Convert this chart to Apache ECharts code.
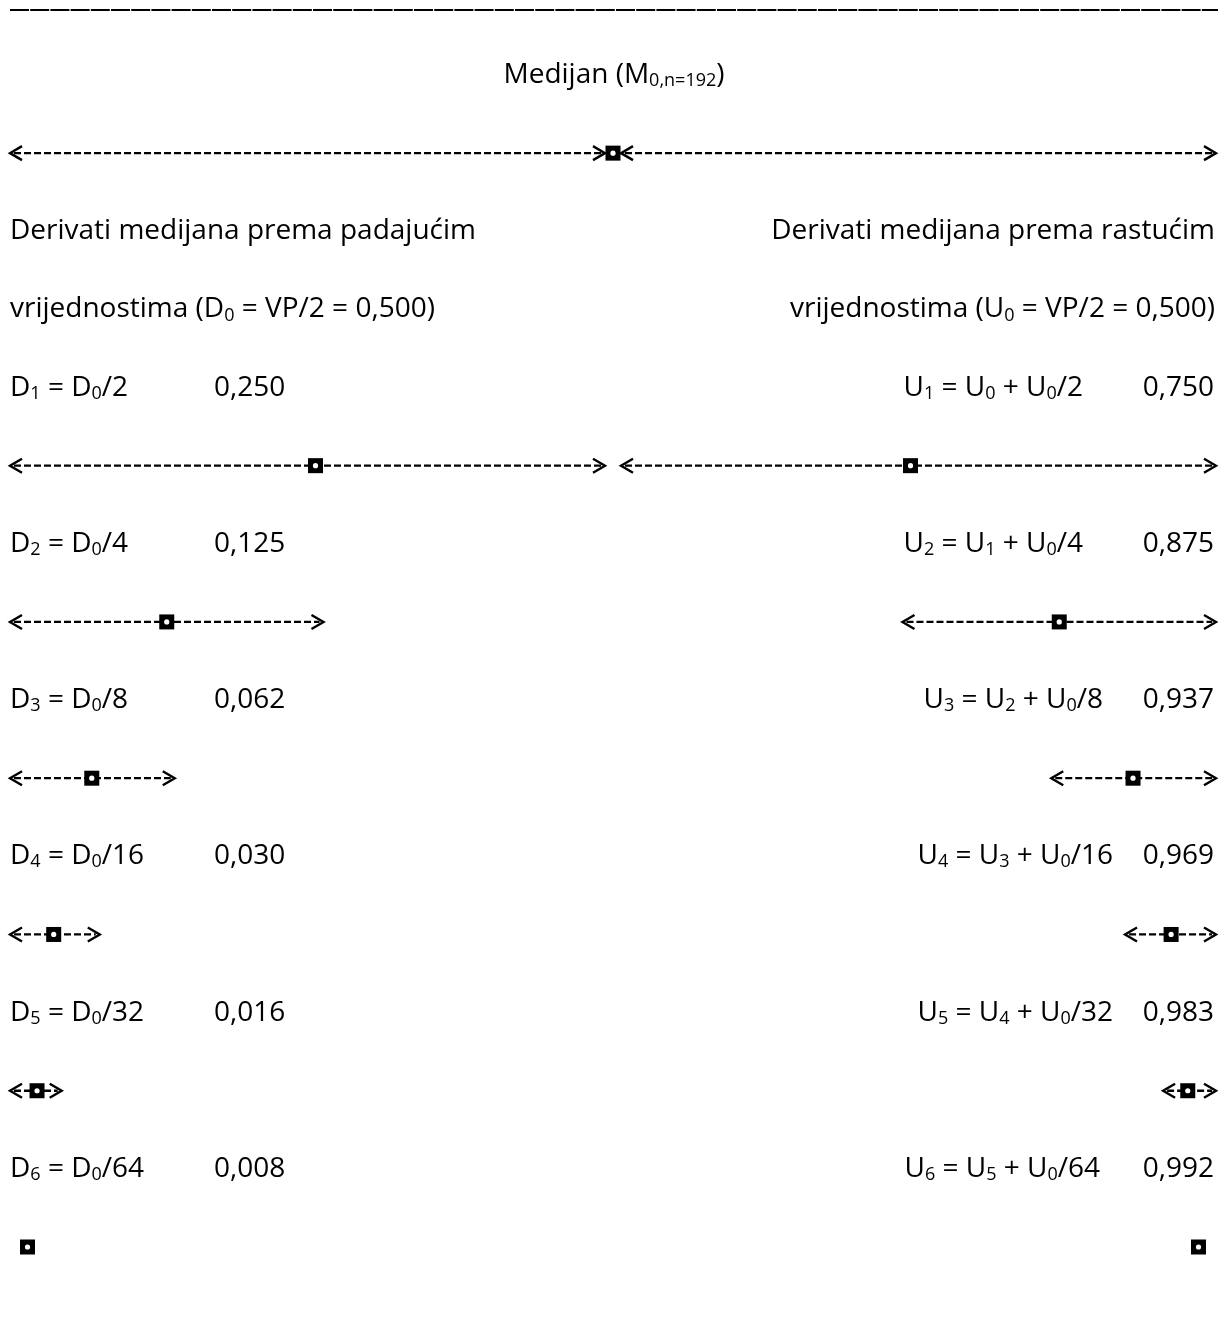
<!DOCTYPE html>
<html><head><meta charset="utf-8">
<script src="https://cdn.jsdelivr.net/npm/echarts@6/dist/echarts.min.js"></script>
<style>html,body{margin:0;padding:0;background:#fff}#c{width:1229px;height:1327px}</style>
</head><body><div id="c"></div>
<script>
// ---------- data ----------
const median = 0.5;                       // M0 (VP/2)
const lowerBound = 0, upperBound = 1;     // value range
const titleText = 'Medijan (M_{0,n=192})';
const headerLeft  = ['Derivati medijana prema padajućim', 'vrijednostima (D_0 = VP/2 = 0,500)'];
const headerRight = ['Derivati medijana prema rastućim',  'vrijednostima (U_0 = VP/2 = 0,500)'];
const dFormulas = ['D_1 = D_0/2', 'D_2 = D_0/4', 'D_3 = D_0/8', 'D_4 = D_0/16', 'D_5 = D_0/32', 'D_6 = D_0/64'];
const dValues   = [0.250, 0.125, 0.062, 0.030, 0.016, 0.008];
const uFormulas = ['U_1 = U_0 + U_0/2', 'U_2 = U_1 + U_0/4', 'U_3 = U_2 + U_0/8', 'U_4 = U_3 + U_0/16', 'U_5 = U_4 + U_0/32', 'U_6 = U_5 + U_0/64'];
const uValues   = [0.750, 0.875, 0.937, 0.969, 0.983, 0.992];
const arrowSteps = 5;                     // derivatives that still show an interval arrow

// ---------- layout / style ----------
const FONT = 'Open Sans';
const FS = 28;
const SUB_FS = 18;
const uFormulaRight = [1083, 1083, 1103, 1113, 1113, 1100];

function fmt(v) { return v.toFixed(3).replace('.', ','); }
function toRich(s) { return s.replace(/_\{([^}]*)\}|_(\w)/g, (m, a, b) => '{sub|' + (a || b) + '}'); }

// rows: 0 title, 1 median arrow, 2-3 headers, 4+2k formulas, 5+2k arrows/markers
const markers = [[median, 1]];
dValues.forEach((v, k) => markers.push([v, 5 + 2 * k]));
uValues.forEach((v, k) => markers.push([v, 5 + 2 * k]));

const arrows = [[lowerBound, median, 1], [median, upperBound, 1]];
for (let k = 0; k < arrowSteps; k++) {
  const dPrev = k === 0 ? median : dValues[k - 1];
  const uPrev = k === 0 ? median : uValues[k - 1];
  arrows.push([lowerBound, dPrev, 5 + 2 * k]);
  arrows.push([uPrev, upperBound, 5 + 2 * k]);
}

const texts = [];
texts.push({ row: 0, x: 614, align: 'center', t: titleText });
texts.push({ row: 2, x: 10, align: 'left', t: headerLeft[0] });
texts.push({ row: 3, x: 10, align: 'left', t: headerLeft[1] });
texts.push({ row: 2, x: 1215, align: 'right', t: headerRight[0] });
texts.push({ row: 3, x: 1215, align: 'right', t: headerRight[1] });
dFormulas.forEach((f, k) => {
  texts.push({ row: 4 + 2 * k, x: 10, align: 'left', t: f });
  texts.push({ row: 4 + 2 * k, x: 214, align: 'left', t: fmt(dValues[k]) });
});
uFormulas.forEach((f, k) => {
  texts.push({ row: 4 + 2 * k, x: uFormulaRight[k], align: 'right', t: f });
  texts.push({ row: 4 + 2 * k, x: 1214, align: 'right', t: fmt(uValues[k]) });
});

const chart = echarts.init(document.getElementById('c'), null, { renderer: 'canvas' });
const HEAD_W = 12, HEAD_H = 7, GAP = 8;

chart.setOption({
  backgroundColor: '#fff',
  animation: false,
  grid: { left: 18, right: 21, top: 75, bottom: 80 },
  xAxis: { type: 'value', min: lowerBound, max: upperBound, show: false },
  yAxis: { type: 'value', min: 0, max: 15, inverse: true, show: false },
  graphic: [{
    type: 'line', shape: { x1: 10, y1: 10, x2: 1218, y2: 10 },
    style: { stroke: '#000', lineWidth: 2.2, lineDash: [19, 1.2] }
  }],
  series: [
    {
      type: 'custom', name: 'arrows', data: arrows,
      renderItem(params, api) {
        const lo = api.value(0), hi = api.value(1), row = api.value(2);
        const pL = api.coord([lo, row]), pR = api.coord([hi, row]);
        const y = pL[1];
        const xl = lo === median ? pL[0] + GAP : pL[0] - GAP;
        const xr = hi === median ? pR[0] - GAP : pR[0] + GAP;
        const st = { stroke: '#000', lineWidth: 2.4, fill: null };
        return {
          type: 'group', children: [
            { type: 'polyline', shape: { points: [[xl + HEAD_W, y - HEAD_H], [xl, y], [xl + HEAD_W, y + HEAD_H]] }, style: st },
            { type: 'polyline', shape: { points: [[xr - HEAD_W, y - HEAD_H], [xr, y], [xr - HEAD_W, y + HEAD_H]] }, style: st },
            { type: 'line', shape: { x1: xl + 4, y1: y, x2: xr - 4, y2: y }, style: { stroke: '#000', lineWidth: 2.3, lineDash: [7, 3] } }
          ]
        };
      }
    },
    {
      type: 'custom', name: 'markers', data: markers, z: 5,
      renderItem(params, api) {
        const p = api.coord([api.value(0), api.value(1)]);
        return {
          type: 'group', children: [
            { type: 'rect', shape: { x: p[0] - 7.5, y: p[1] - 7.5, width: 15, height: 15 }, style: { fill: '#000' } },
            { type: 'circle', shape: { cx: p[0], cy: p[1], r: 2.6 }, style: { fill: '#fff' } }
          ]
        };
      }
    },
    {
      type: 'custom', name: 'texts', data: texts.map((t, i) => [i, t.row]),
      renderItem(params, api) {
        const t = texts[params.dataIndex];
        const y = api.coord([0, api.value(1)])[1];
        return {
          type: 'text', x: t.x, y: y,
          style: {
            text: toRich(t.t), fontFamily: FONT, fontSize: FS, fill: '#000',
            align: t.align, verticalAlign: 'middle',
            rich: { sub: { fontFamily: FONT, fontSize: SUB_FS, fill: '#000', padding: [12, 0, 0, 0] } }
          }
        };
      }
    }
  ]
});
</script></body></html>
